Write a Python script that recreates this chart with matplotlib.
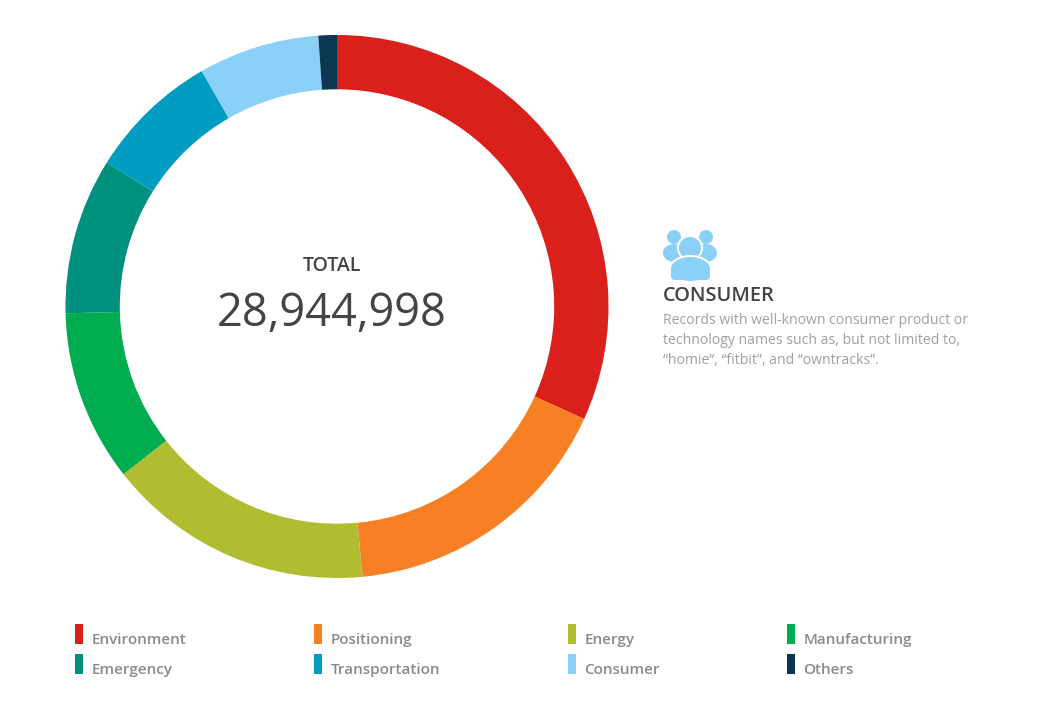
import matplotlib
matplotlib.use('Agg')
import matplotlib.pyplot as plt
from matplotlib.patches import Circle, Ellipse, FancyBboxPatch, Rectangle

categories = ['Environment', 'Positioning', 'Energy', 'Manufacturing',
              'Emergency', 'Transportation', 'Consumer', 'Others']
shares = [31.8, 16.7, 15.9, 10.2, 9.3, 7.8, 7.2, 1.1]
colors = ['#d9201a', '#f88024', '#b0bd30', '#00ac50',
          '#00917e', '#009cc1', '#8bd0f6', '#0b3753']
total_label = '28,944,998'
detail_title = 'CONSUMER'
detail_lines = ['Records with well-known consumer product or',
                'technology names such as, but not limited to,',
                '\u201chomie\u201d, \u201cfitbit\u201d, and \u201cowntracks\u201d.']

W, H = 1053, 702
plt.rcParams['font.family'] = ['Open Sans', 'DejaVu Sans']
fig = plt.figure(figsize=(W / 100, H / 100), dpi=100)

# donut, axes placed so that the circle lands on the right pixels
cx, cy, r = 337, 306.5, 271.5
ax = fig.add_axes([(cx - r) / W, 1 - (cy + r) / H, 2 * r / W, 2 * r / H])
ax.pie(shares, colors=colors, startangle=90, counterclock=False, radius=1,
       wedgeprops=dict(width=0.2, linewidth=0))
ax.set_xlim(-1, 1)
ax.set_ylim(-1, 1)

# overlay in pixel coordinates for text and legend
ov = fig.add_axes([0, 0, 1, 1])
ov.set_xlim(0, W)
ov.set_ylim(H, 0)
ov.axis('off')
ov.patch.set_alpha(0)

ov.text(332, 266, 'TOTAL', fontsize=14, color='#444444', fontweight='semibold',
        ha='center', va='center')
ov.text(332, 314, total_label, fontsize=32.5, color='#444444', ha='center', va='center')

# people icon
icon = '#8bd0f6'
for x in [674, 706]:
    ov.add_patch(Circle((x, 237), 7, fc=icon, ec='none'))
    ov.add_patch(Ellipse((x, 253), 22, 18, fc=icon, ec='none'))
ov.add_patch(Circle((690, 248), 13, fc='white', ec='none'))
ov.add_patch(Circle((690, 248), 11, fc=icon, ec='none'))
ov.add_patch(Ellipse((690.5, 269), 43, 28, fc='white', ec='none'))
ov.add_patch(Ellipse((690.5, 269), 39, 24, fc=icon, ec='none'))
ov.add_patch(FancyBboxPatch((671, 268), 39, 12, boxstyle='round,pad=0,rounding_size=4',
                            fc=icon, ec='none'))

ov.text(663, 296, detail_title, fontsize=14.4, color='#444444', fontweight='semibold',
        va='center')
for i, line in enumerate(detail_lines):
    ov.text(663, 320 + i * 20.2, line, fontsize=10.08, color='#a0a0a0', va='center')

# legend, two rows of four
col_x = [75, 314, 568, 787]
row_y = [624, 654]
for i, name in enumerate(categories):
    x = col_x[i % 4]
    y = row_y[i // 4]
    ov.add_patch(Rectangle((x, y), 7.5, 20, fc=colors[i], ec='none'))
    ov.text(x + 16.5, y + 16, name, fontsize=11, color='#8a8a8a', fontweight='semibold',
            va='center')

fig.savefig('out.png', dpi=100)
